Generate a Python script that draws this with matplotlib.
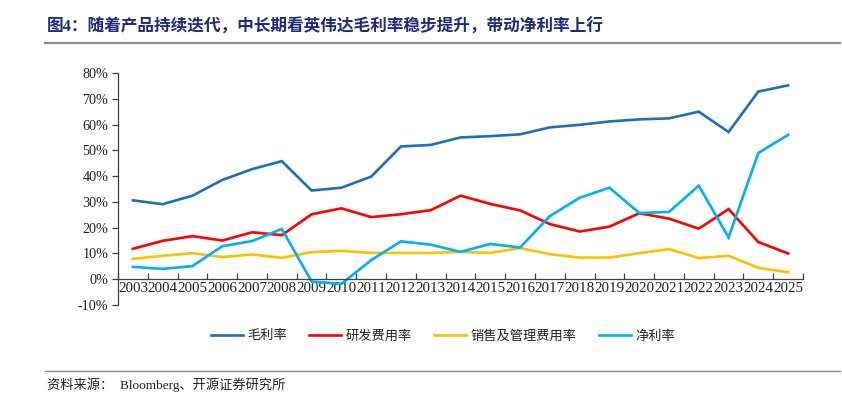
import matplotlib
matplotlib.use("Agg")
import matplotlib.pyplot as plt
from matplotlib.ticker import FixedLocator, FuncFormatter
from matplotlib.lines import Line2D

years = [str(y) for y in range(2003, 2026)]
gross_margin = [30.6, 29.1, 32.4, 38.5, 42.7, 45.8, 34.4, 35.5, 39.8, 51.5, 52.1, 55.0,
                55.5, 56.2, 58.9, 59.9, 61.2, 62.0, 62.4, 65.0, 57.1, 72.8, 75.2]
rd_ratio = [11.8, 14.9, 16.7, 15.0, 18.2, 17.1, 25.2, 27.5, 24.1, 25.2, 26.8, 32.4,
            29.2, 26.7, 21.4, 18.5, 20.4, 25.6, 23.5, 19.6, 27.2, 14.4, 10.0]
sga_ratio = [7.9, 9.1, 10.1, 8.6, 9.6, 8.3, 10.5, 11.0, 10.2, 10.2, 10.2, 10.6,
             10.2, 12.1, 9.7, 8.4, 8.4, 10.1, 11.7, 8.2, 9.1, 4.4, 2.7]
net_margin = [4.8, 4.0, 5.1, 12.8, 14.8, 19.5, -0.9, -1.8, 7.4, 14.7, 13.4, 10.6,
              13.7, 12.3, 24.5, 31.6, 35.5, 25.7, 26.1, 36.3, 16.2, 49.0, 56.0]
series_names = ["毛利率", "研发费用率", "销售及管理费用率", "净利率"]
series_colors = ["#1F6EBE", "#FF0000", "#FFC000", "#00B0F0"]
y_ticks = [-10, 0, 10, 20, 30, 40, 50, 60, 70, 80]

title = "图4：随着产品持续迭代，中长期看英伟达毛利率稳步提升，带动净利率上行"
source = "资料来源：  Bloomberg、开源证券研究所"

serif_cjk = ["Liberation Serif", "Noto Sans CJK SC"]
cjk = ["Noto Sans CJK SC", "DejaVu Sans"]

fig = plt.figure(figsize=(8.42, 3.96), dpi=100)
ax = fig.add_axes([118/842, 1-305/396, (803-118)/842, (305-73)/396])

x = list(range(len(years)))
for vals, name, col in zip([gross_margin, rd_ratio, sga_ratio, net_margin], series_names, series_colors):
    ax.plot(x, vals, color=col, lw=1.9, label=name, solid_joinstyle="miter")

ax.set_xlim(-0.5, len(years) - 0.5)
ax.set_ylim(-10, 80)
axis_col = "#404040"
for s in ["top", "right"]:
    ax.spines[s].set_visible(False)
ax.spines["bottom"].set_position(("data", 0))
ax.spines["bottom"].set_color(axis_col)
ax.spines["left"].set_color(axis_col)
ax.spines["bottom"].set_linewidth(0.9)
ax.spines["left"].set_linewidth(0.9)

ax.xaxis.set_major_locator(FixedLocator([i - 0.5 for i in range(len(years) + 1)]))
ax.xaxis.set_minor_locator(FixedLocator(x))
ax.xaxis.set_major_formatter(FuncFormatter(lambda v, p: ""))
ax.xaxis.set_minor_formatter(FuncFormatter(lambda v, p: years[int(round(v))]))
ax.tick_params(axis="x", which="major", direction="in", length=4, color=axis_col, width=0.9)
ax.tick_params(axis="x", which="minor", length=0, pad=2)
for lab in ax.get_xticklabels(minor=True):
    lab.set_fontfamily("Liberation Serif")
    lab.set_fontsize(10.8)
    lab.set_color("#222222")

ax.set_yticks(y_ticks)
ax.set_yticklabels([f"{v}%" for v in y_ticks], fontfamily="Liberation Serif", fontsize=10.2, color="#222222")
ax.tick_params(axis="y", direction="out", length=4, color=axis_col, width=0.9, pad=3)

# title and rules
fig.text(47/842, 1-27/396, title, fontsize=12, fontweight="bold", color="#1F2A7C",
         fontfamily=serif_cjk, va="center", ha="left")
fig.add_artist(Line2D([45/842, 840/842], [1-43/396, 1-43/396], color="#8C8C8C", lw=1.6))
fig.add_artist(Line2D([45/842, 840/842], [1-371/396, 1-371/396], color="#8C8C8C", lw=1.0))
fig.text(47/842, 1-385/396, source, fontsize=9.5, color="#222222",
         fontfamily=serif_cjk, va="center", ha="left")

handles, labels = ax.get_legend_handles_labels()
leg = fig.legend(handles, labels, loc="center", bbox_to_anchor=(443/842, 1-336/396), ncol=4,
                 frameon=False, handlelength=2.4, handletextpad=0.35, columnspacing=1.7,
                 prop={"family": cjk, "size": 9.5})
for t in leg.get_texts():
    t.set_color("#222222")

fig.savefig("out.png", dpi=100)
